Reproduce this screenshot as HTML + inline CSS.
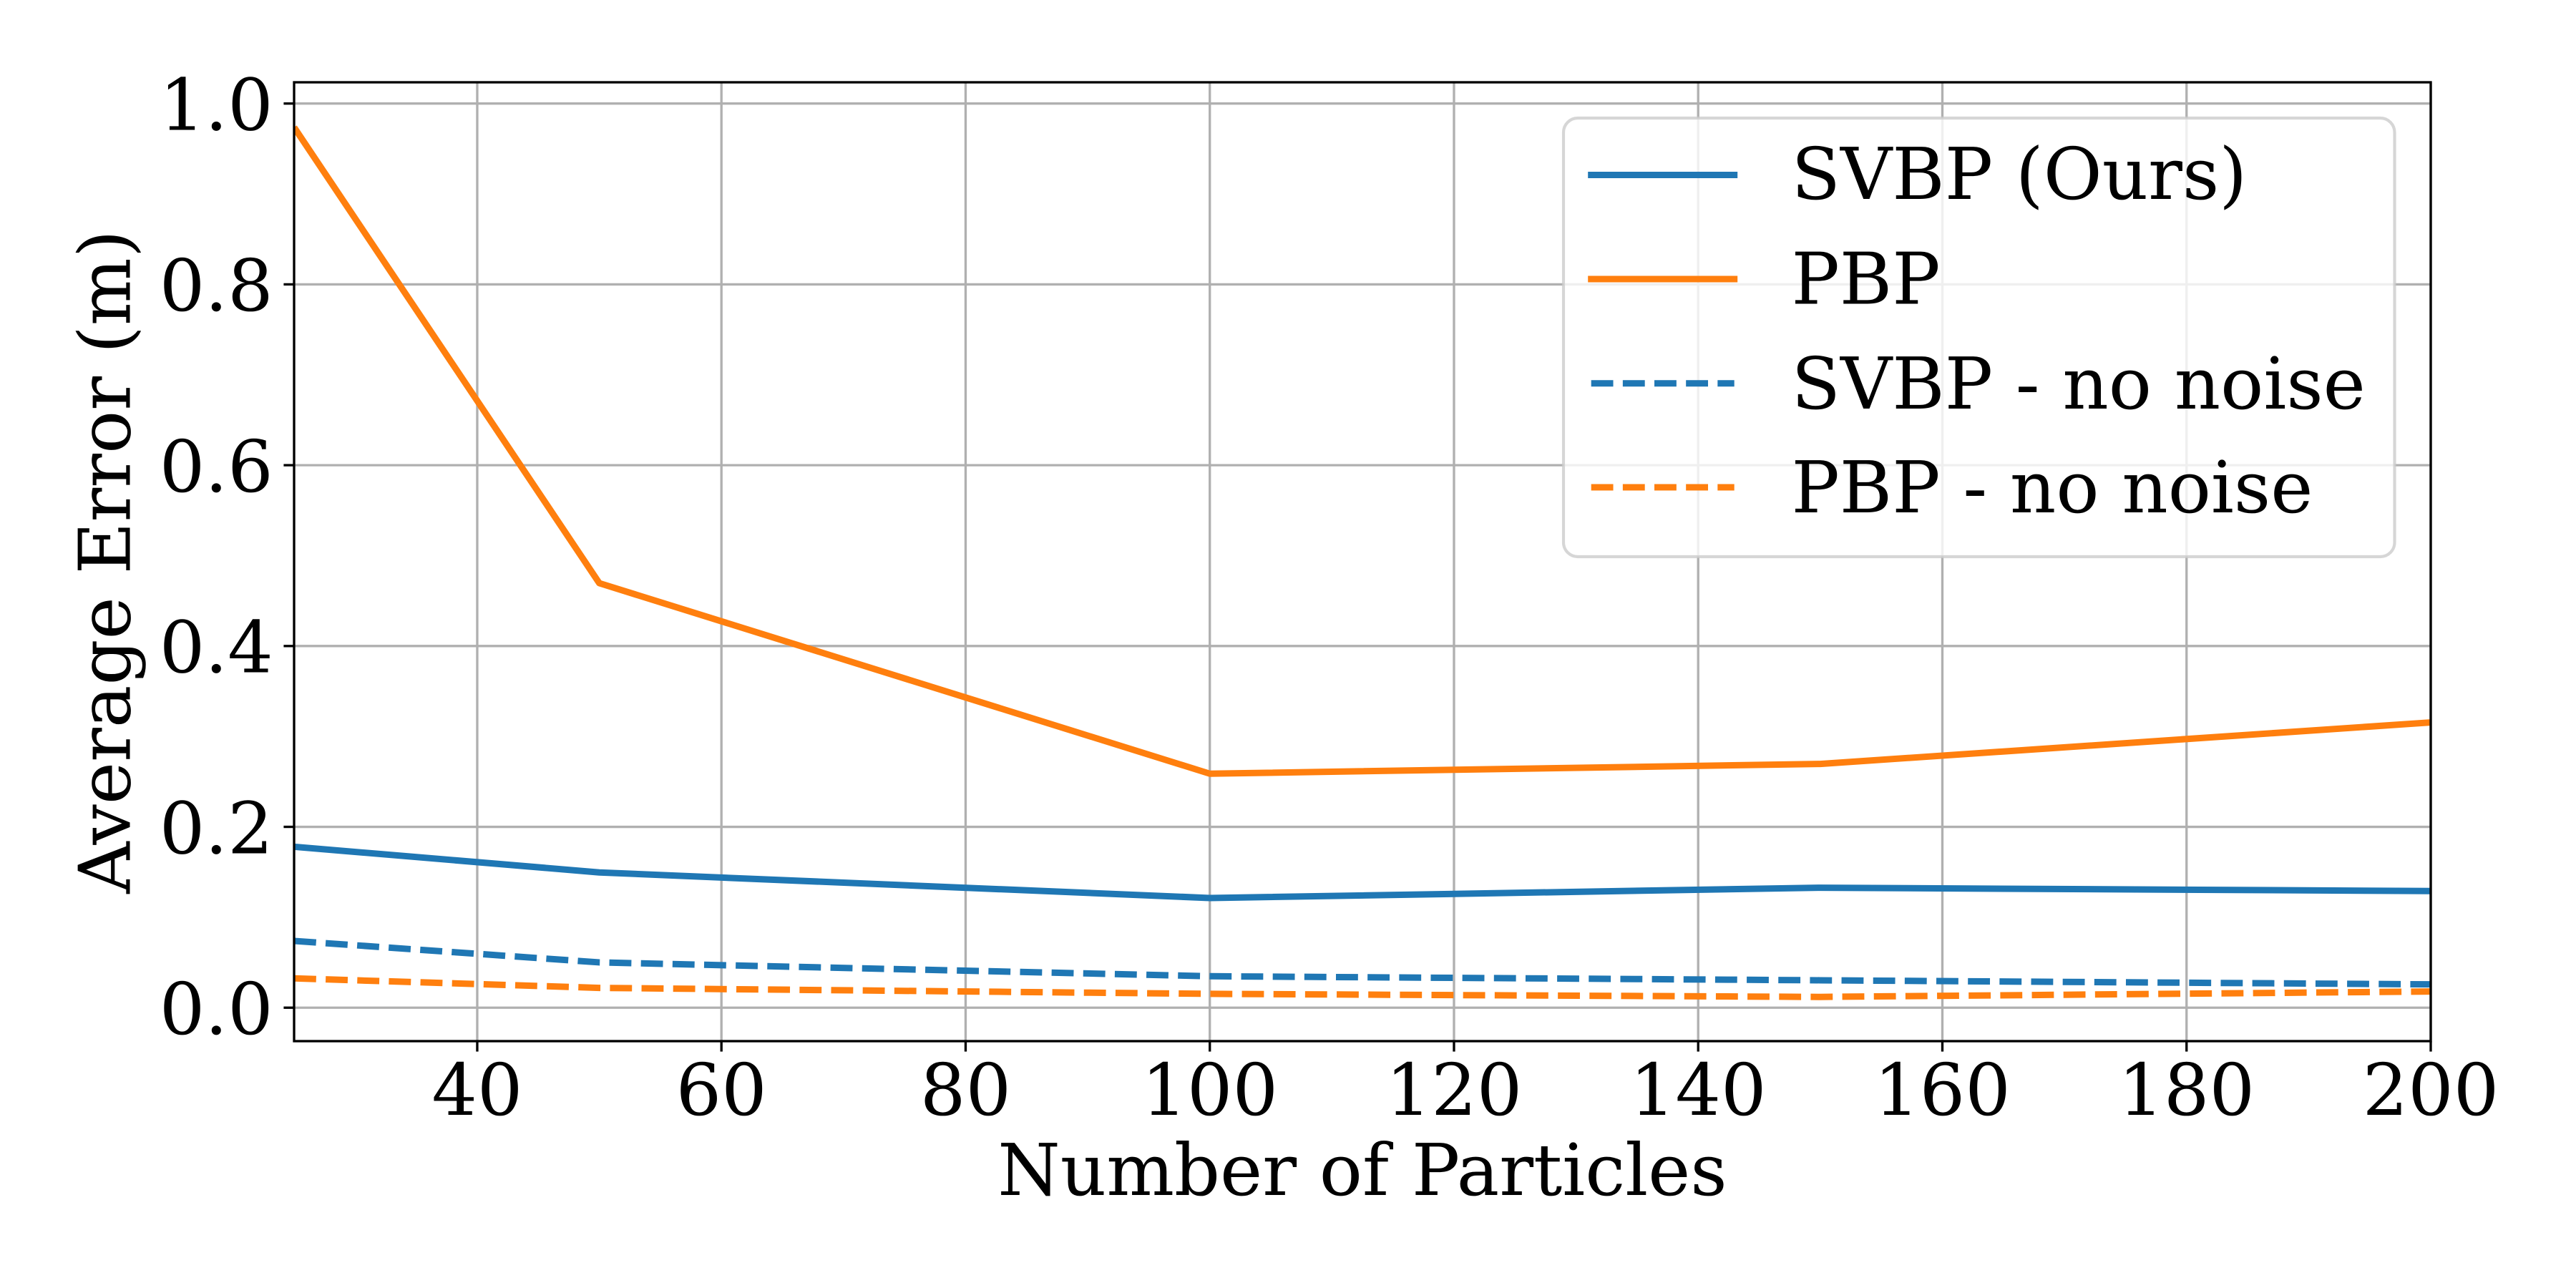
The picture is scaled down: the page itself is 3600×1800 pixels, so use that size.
<!DOCTYPE html>
<html lang="en">
<head>
<meta charset="utf-8">
<title>Average Error vs Number of Particles</title>
<style>
  html, body { margin: 0; padding: 0; background: #fff; }
  svg { display: block; position: absolute; left: 0; top: 0; }
  text { font-family: "DejaVu Serif", "Liberation Serif", serif; font-size: 100px; fill: #000; text-rendering: geometricPrecision; }
</style>
</head>
<body>
<svg id="chart" xmlns="http://www.w3.org/2000/svg" width="3600" height="1800" viewBox="0 0 3600 1800">
  <rect x="0" y="0" width="3600" height="1800" fill="#ffffff"/>
  <defs>
    <clipPath id="plot-clip"><rect x="411" y="115" width="2986" height="1340"/></clipPath>
  </defs>
  <g id="grid"></g>
  <g id="series" clip-path="url(#plot-clip)"></g>
  <g id="ticks"></g>
  <rect x="411" y="115" width="2986" height="1340" fill="none" stroke="#000" stroke-width="3.33" stroke-linejoin="miter"/>
  <text x="1904" y="1670" text-anchor="middle">Number of Particles</text>
  <text transform="translate(181.7 785) rotate(-90)" text-anchor="middle">Average Error (m)</text>
  <g>
    <rect x="2185" y="165" width="1161.5" height="613" rx="20" ry="20" fill="#ffffff" fill-opacity="0.8" stroke="#cccccc" stroke-opacity="0.8" stroke-width="4.17"/>
    <g>
      <line x1="2223.7" x2="2423.7" y1="244.5" y2="244.5" stroke="#1f77b4" stroke-width="9" stroke-linecap="square"/>
      <text x="2503.5" y="278">SVBP (Ours)</text>
    </g>
    <g>
      <line x1="2223.7" x2="2423.7" y1="390" y2="390" stroke="#ff7f0e" stroke-width="9" stroke-linecap="square"/>
      <text x="2503.5" y="424.5">PBP</text>
    </g>
    <g>
      <line x1="2223.7" x2="2423.7" y1="535.8" y2="535.8" stroke="#1f77b4" stroke-width="9" stroke-dasharray="30.83 13.33"/>
      <text x="2503.5" y="571">SVBP - no noise</text>
    </g>
    <g>
      <line x1="2223.7" x2="2423.7" y1="681" y2="681" stroke="#ff7f0e" stroke-width="9" stroke-dasharray="30.83 13.33"/>
      <text x="2503.5" y="716">PBP - no noise</text>
    </g>
  </g>
</svg>
<script>
const particleCounts = [25, 50, 100, 150, 200];
const svbpValues = [0.178, 0.1496, 0.1213, 0.1327, 0.129];
const pbpValues = [0.9737, 0.4695, 0.2588, 0.2696, 0.3155];
const svbpNoNoiseValues = [0.0738, 0.0501, 0.0348, 0.0303, 0.0258];
const pbpNoNoiseValues = [0.0324, 0.0219, 0.0153, 0.0119, 0.0179];
const xTickLabels = ["40", "60", "80", "100", "120", "140", "160", "180", "200"];
const yTickLabels = ["0.0", "0.2", "0.4", "0.6", "0.8", "1.0"];

const NS = "http://www.w3.org/2000/svg";
const plot = { left: 411, right: 3397, top: 115, bottom: 1455 };
const xDomain = [25, 200];
const yDomain = [-0.037, 1.0235];

function xScale(v) {
  return plot.left + (v - xDomain[0]) / (xDomain[1] - xDomain[0]) * (plot.right - plot.left);
}
function yScale(v) {
  return plot.bottom - (v - yDomain[0]) / (yDomain[1] - yDomain[0]) * (plot.bottom - plot.top);
}
function make(tag, attrs, parent) {
  const el = document.createElementNS(NS, tag);
  for (const k in attrs) el.setAttribute(k, attrs[k]);
  parent.appendChild(el);
  return el;
}

const gridLayer = document.getElementById("grid");
const tickLayer = document.getElementById("ticks");
const seriesLayer = document.getElementById("series");

xTickLabels.forEach(function (label) {
  const x = xScale(Number(label));
  const g = make("line", { x1: x, x2: x, y1: plot.top, y2: plot.bottom, stroke: "#b0b0b0", "stroke-width": 3.33 }, gridLayer);
  
  
  const t = make("line", { x1: x, x2: x, y1: plot.bottom, y2: plot.bottom + 14.58, stroke: "#000", "stroke-width": 3.33 }, tickLayer);
  
  
  const s = make("text", { x: x, y: 1558, "text-anchor": "middle" }, tickLayer);
  
  
  s.textContent = label;
});

yTickLabels.forEach(function (label) {
  const y = yScale(Number(label));
  const g = make("line", { x1: plot.left, x2: plot.right, y1: y, y2: y, stroke: "#b0b0b0", "stroke-width": 3.33 }, gridLayer);
  
  
  const t = make("line", { x1: plot.left - 14.58, x2: plot.left, y1: y, y2: y, stroke: "#000", "stroke-width": 3.33 }, tickLayer);
  
  
  const s = make("text", { x: 381.8, y: y + 36.8, "text-anchor": "end" }, tickLayer);
  
  
  s.textContent = label;
});

function drawSeries(values, color, dashed) {
  const pts = particleCounts.map(function (p, i) {
    return xScale(p).toFixed(2) + "," + yScale(values[i]).toFixed(2);
  }).join(" ");
  const attrs = { points: pts, fill: "none", stroke: color, "stroke-width": 9, "stroke-linejoin": "round" };
  if (dashed) attrs["stroke-dasharray"] = "30.83 13.33";
  return make("polyline", attrs, seriesLayer);
}

const lineSvbp = drawSeries(svbpValues, "#1f77b4", false);


const linePbp = drawSeries(pbpValues, "#ff7f0e", false);


const lineSvbpNoNoise = drawSeries(svbpNoNoiseValues, "#1f77b4", true);


const linePbpNoNoise = drawSeries(pbpNoNoiseValues, "#ff7f0e", true);


</script>
</body>
</html>
